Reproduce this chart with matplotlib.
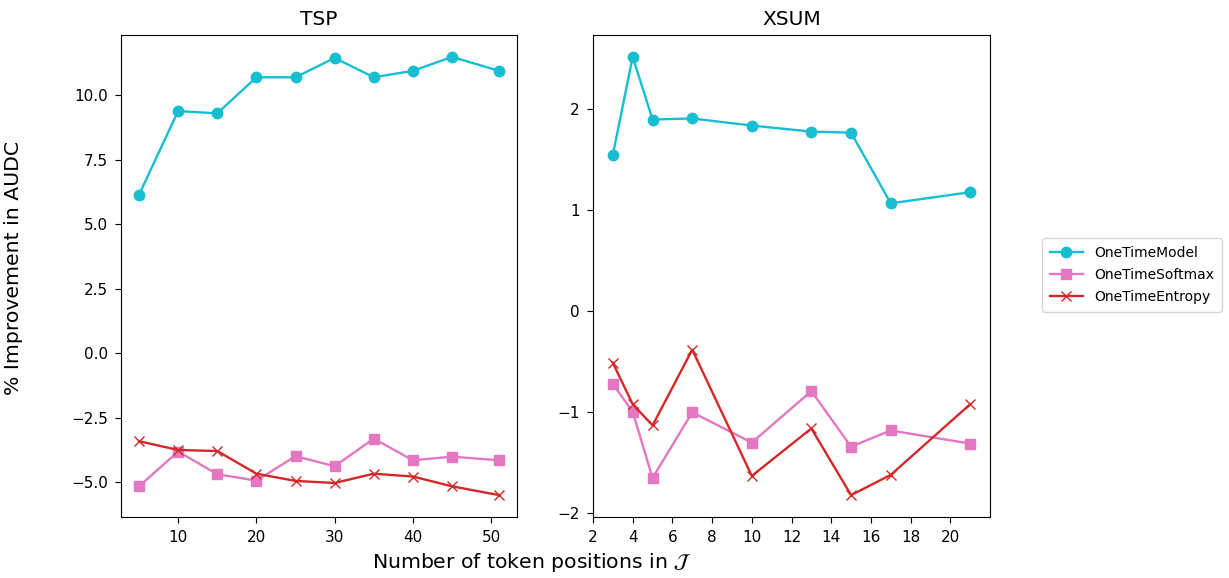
import numpy as np
import matplotlib.pyplot as plt

# TSP panel
tsp_x = [5, 10, 15, 20, 25, 30, 35, 40, 45, 51]
tsp_model = [6.14, 9.39, 9.30, 10.70, 10.70, 11.45, 10.70, 10.95, 11.49, 10.95]
tsp_softmax = [-5.17, -3.82, -4.70, -4.95, -4.00, -4.39, -3.32, -4.16, -4.02, -4.16]
tsp_entropy = [-3.42, -3.76, -3.80, -4.68, -4.96, -5.04, -4.68, -4.79, -5.17, -5.51]

# XSUM panel
xsum_x = [3, 4, 5, 7, 10, 13, 15, 17, 21]
xsum_model = [1.55, 2.52, 1.90, 1.91, 1.84, 1.78, 1.77, 1.07, 1.18]
xsum_softmax = [-0.72, -0.995, -1.65, -1.00, -1.30, -0.79, -1.34, -1.18, -1.31]
xsum_entropy = [-0.51, -0.92, -1.13, -0.38, -1.63, -1.16, -1.82, -1.62, -0.92]

labels = ["OneTimeModel", "OneTimeSoftmax", "OneTimeEntropy"]
colors = ["tab:cyan", "tab:pink", "tab:red"]
markers = ["o", "s", "x"]

fig = plt.figure(figsize=(12.29, 5.78), dpi=100)
ax1 = fig.add_axes([121/1229, 61/578, 396/1229, 482/578])
ax2 = fig.add_axes([593/1229, 61/578, 397/1229, 482/578])

for series, lab, c, m in zip([tsp_model, tsp_softmax, tsp_entropy], labels, colors, markers):
    ax1.plot(tsp_x, series, color=c, marker=m, label=lab, lw=1.7, ms=7.5)
for series, lab, c, m in zip([xsum_model, xsum_softmax, xsum_entropy], labels, colors, markers):
    ax2.plot(xsum_x, series, color=c, marker=m, label=lab, lw=1.7, ms=7.5)

ax1.set_title("TSP", fontsize=14.5, pad=7)
ax2.set_title("XSUM", fontsize=14.5, pad=7)
ax2.set_xlim(2, 22)
ax2.set_xticks(np.arange(2, 22, 2))
for ax in (ax1, ax2):
    ax.tick_params(labelsize=11, pad=5, length=4.5)

fig.text(14/1229, 1 - 268/578, "% Improvement in AUDC", rotation=90, fontsize=14.7,
         ha="center", va="center")
fig.text(532/1229, 1 - 563/578, r"Number of token positions in $\mathcal{J}$", fontsize=14.7,
         ha="center", va="center")

handles, labs = ax1.get_legend_handles_labels()
fig.legend(handles, labs, loc="center left", bbox_to_anchor=(1035/1229, 1 - 275/578),
           fontsize=10, handlelength=2.4, labelspacing=0.6, borderpad=0.55)

fig.savefig("out.png", dpi=100)
